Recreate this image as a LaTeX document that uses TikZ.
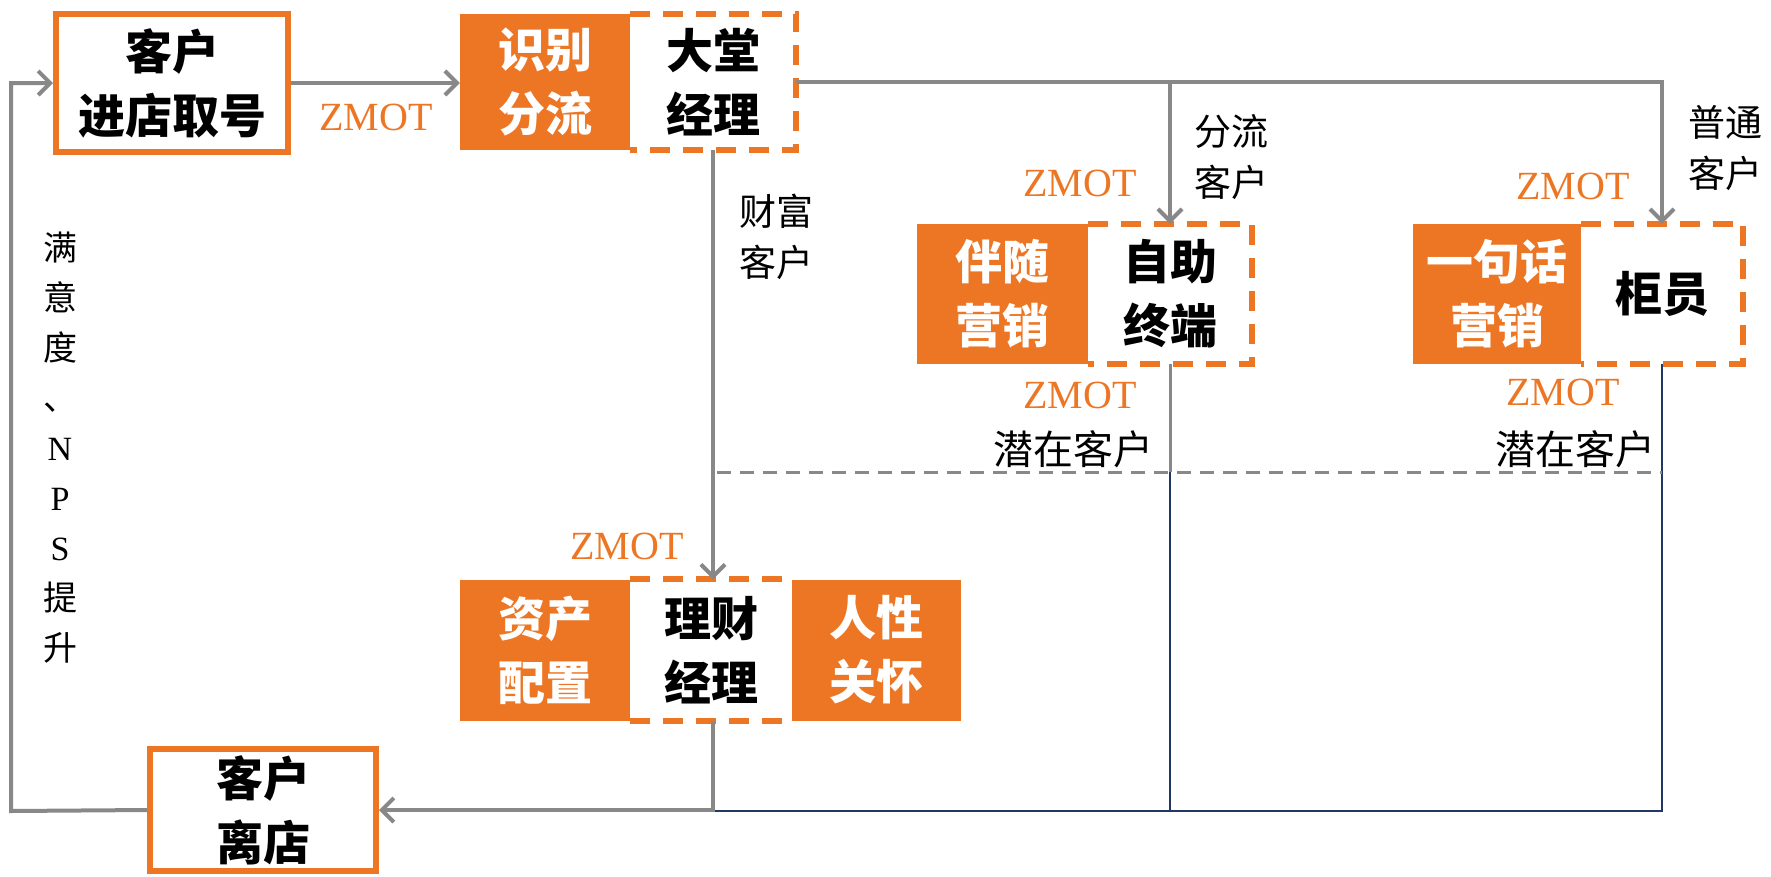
\documentclass[tikz,border=0pt]{standalone}
\usepackage{fontspec}
\setmainfont{Liberation Serif}
\newfontfamily\cjk{Noto Sans CJK SC}
\usetikzlibrary{arrows.meta}
\definecolor{org}{RGB}{236,118,36}
\definecolor{gry}{RGB}{136,136,136}
\definecolor{nvy}{RGB}{31,56,100}
\begin{document}
\begin{tikzpicture}[x=1pt,y=-1pt,
  boxtxt/.style={font=\fontsize{47}{64}\selectfont\cjk\bfseries, align=center, inner sep=0pt},
  ofill/.style={boxtxt, fill=org, text=white},
  wbox/.style={boxtxt, text=black},
  sbox/.style={boxtxt, draw=org, line width=6pt, fill=white},
  dashb/.style={draw=org, line width=6pt, dash pattern=on 20pt off 13pt},
  arr/.style={draw=gry, line width=4pt, -{Straight Barb[length=12pt,width=24pt]}},
  gl/.style={draw=gry, line width=4pt},
  bl/.style={draw=nvy, line width=2.5pt},
  zm/.style={text=org, font=\fontsize{40}{40}\selectfont, inner sep=0pt},
  lab/.style={font=\fontsize{37}{51}\selectfont\cjk, align=center, inner sep=0pt},
  plab/.style={font=\fontsize{40}{40}\selectfont\cjk, inner sep=0pt}]
\useasboundingbox (0,0) rectangle (1771,876);
% boxes
\node[sbox, minimum width=232, minimum height=138] (A) at (172,83) {客户\\进店取号};
\node[ofill, minimum width=170, minimum height=136] (B1) at (545,82) {识别\\分流};
\node[wbox, minimum width=166, minimum height=136] (B2) at (713,82) {大堂\\经理};
\draw[dashb] (B2.north west) -- (B2.north east) -- (B2.south east) -- (B2.south west);

\node[ofill, minimum width=171, minimum height=140] (C1) at (1002,294) {伴随\\营销};
\node[wbox, minimum width=163, minimum height=140] (C2) at (1170,294) {自助\\终端};
\draw[dashb] (C2.north west) -- (C2.north east) -- (C2.south east) -- (C2.south west);

\node[ofill, minimum width=168, minimum height=140] (D1) at (1497,294) {一句话\\营销};
\node[wbox, minimum width=162, minimum height=140] (D2) at (1662,294) {柜员};
\draw[dashb] (D2.north west) -- (D2.north east) -- (D2.south east) -- (D2.south west);

\node[ofill, minimum width=170, minimum height=141] (E1) at (545,650) {资产\\配置};
\node[wbox, minimum width=161, minimum height=141] (E2) at (711,650) {理财\\经理};
\node[ofill, minimum width=169, minimum height=141] (E3) at (876,650) {人性\\关怀};
\draw[dashb] (E2.north west) -- (E2.north east);
\draw[dashb] (E2.south west) -- (E2.south east);

\node[sbox, minimum width=226, minimum height=122] (F) at (263,810) {客户\\离店};

% connectors
\coordinate (dl) at (717,472);
\coordinate (L) at (11,811);
\draw[bl] (C2.south) -- (C2.south |- L);
\draw[bl] (E2.south |- L) -| (D2.south);
\draw[gl, line width=3pt] (C2.south) -- (C2.south |- dl);
\draw[draw=gry, line width=3pt, dash pattern=on 14pt off 9pt] (dl) -- (dl -| D2.south);

\draw[arr] (A.east) -- (A.east -| B1.west);
\draw[arr] (B2.east) -| (D2.north);
\draw[arr] (B2.east -| C2.north) -- (C2.north);
\draw[arr] (B2.south) -- (B2.south |- E2.north);
\draw[arr] (B2.south |- E2.south) |- (F.east);
\draw[arr] (F.west) -- (L) |- (A.west);

% labels
\node[zm] (z1) at (376,117) {ZMOT};
\node[zm] (z2) at (1080,183) {ZMOT};
\node[zm] (z3) at (1573,186) {ZMOT};
\node[zm] (z4) at (1080,395) {ZMOT};
\node[zm] (z5) at (1563,392) {ZMOT};
\node[zm] (z6) at (627,546) {ZMOT};
\node[lab] (t1) at (776,237) {财富\\客户};
\node[lab] (t2) at (1231,157) {分流\\客户};
\node[lab] (t3) at (1725,148) {普通\\客户};
\node[plab] (t4) at (1073,449) {潜在客户};
\node[plab] (t5) at (1575,449) {潜在客户};
\node[font=\fontsize{34}{50}\selectfont\cjk, align=center, inner sep=0pt] (V) at (60,448)
  {满\\意\\度\\、\\{\rmfamily N}\\{\rmfamily P}\\{\rmfamily S}\\提\\升};
\end{tikzpicture}
\end{document}
